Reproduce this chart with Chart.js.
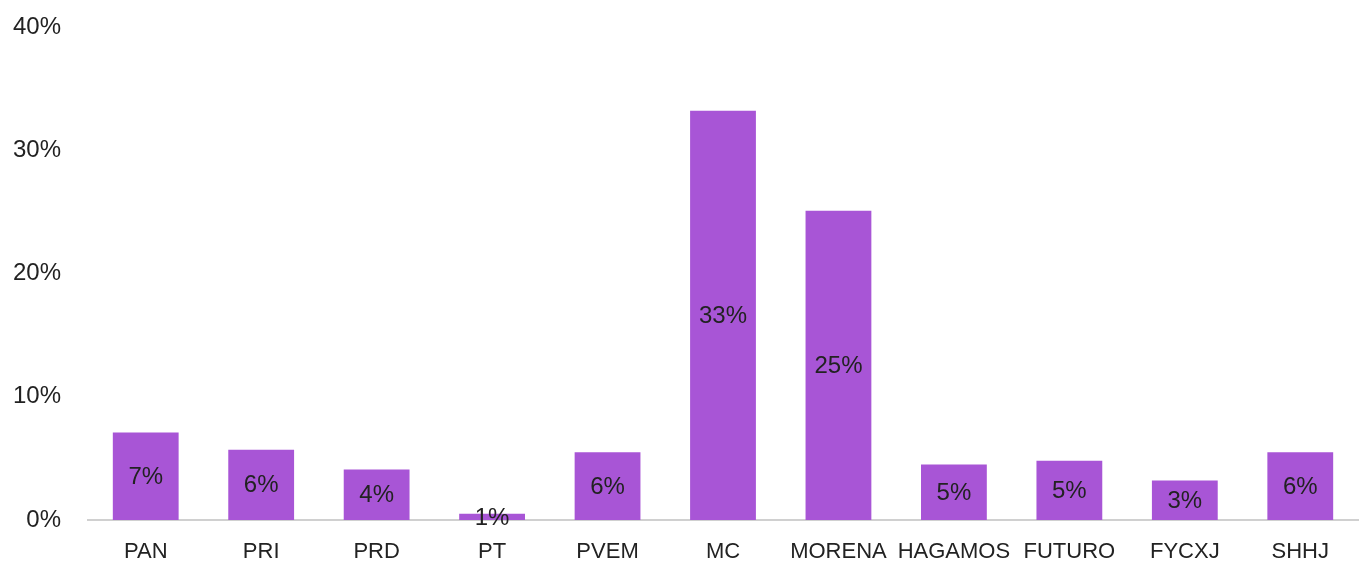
<!DOCTYPE html>
<html>
<head>
<meta charset="utf-8">
<script src="https://cdn.jsdelivr.net/npm/chart.js@4/dist/chart.umd.min.js"></script>
<style>
html,body{margin:0;padding:0;background:#fff;}
#wrap{width:1359px;height:563px;position:relative;}
</style>
</head>
<body>
<div id="wrap"><canvas id="c"></canvas></div>
<script>
const categories = ['PAN','PRI','PRD','PT','PVEM','MC','MORENA','HAGAMOS','FUTURO','FYCXJ','SHHJ'];
const values = [7.1, 5.7, 4.1, 0.5, 5.5, 33.2, 25.1, 4.5, 4.8, 3.2, 5.5];
const valueLabels = ['7%','6%','4%','1%','6%','33%','25%','5%','5%','3%','6%'];
const yTicks = [0, 10, 20, 30, 40];

const FONT = '"Liberation Sans", Arial, sans-serif';

const barLabelPlugin = {
  id: 'barLabels',
  afterDatasetsDraw(chart) {
    const ctx = chart.ctx;
    const meta = chart.getDatasetMeta(0);
    ctx.save();
    ctx.font = '24px ' + FONT;
    ctx.fillStyle = '#222222';
    ctx.textAlign = 'center';
    ctx.textBaseline = 'middle';
    meta.data.forEach((bar, i) => {
      const mid = (bar.y + bar.base) / 2;
      ctx.fillText(valueLabels[i], bar.x, mid + 1);
    });
    ctx.restore();
  }
};

new Chart(document.getElementById('c'), {
  type: 'bar',
  data: {
    labels: categories,
    datasets: [{
      data: values,
      backgroundColor: '#A855D6',
      borderWidth: 0,
      barPercentage: 0.57,
      categoryPercentage: 1.0
    }]
  },
  options: {
    responsive: true,
    maintainAspectRatio: false,
    animation: false,
    layout: { padding: { top: 27, right: 1, left: 0, bottom: 0 } },
    plugins: { legend: { display: false }, tooltip: { enabled: false } },
    scales: {
      x: {
        afterFit(scale) { scale.height = 43; scale.paddingLeft = 0; scale.paddingRight = 0; },
        grid: { display: false, drawTicks: false },
        border: { display: true, color: '#d0d0d0', width: 2 },
        ticks: {
          color: '#222222',
          font: { family: FONT, size: 22 },
          padding: 19,
          maxRotation: 0,
          autoSkip: false
        }
      },
      y: {
        min: 0,
        max: 40,
        afterBuildTicks(scale) { scale.ticks = yTicks.map(v => ({ value: v })); },
        afterFit(scale) { scale.width = 88; scale.paddingTop = 0; scale.paddingBottom = 0; },
        grid: { display: false, drawTicks: false },
        border: { display: false },
        ticks: {
          color: '#222222',
          font: { family: FONT, size: 24 },
          padding: 27,
          callback: v => v + '%'
        }
      }
    }
  },
  plugins: [barLabelPlugin]
});
</script>
</body>
</html>
